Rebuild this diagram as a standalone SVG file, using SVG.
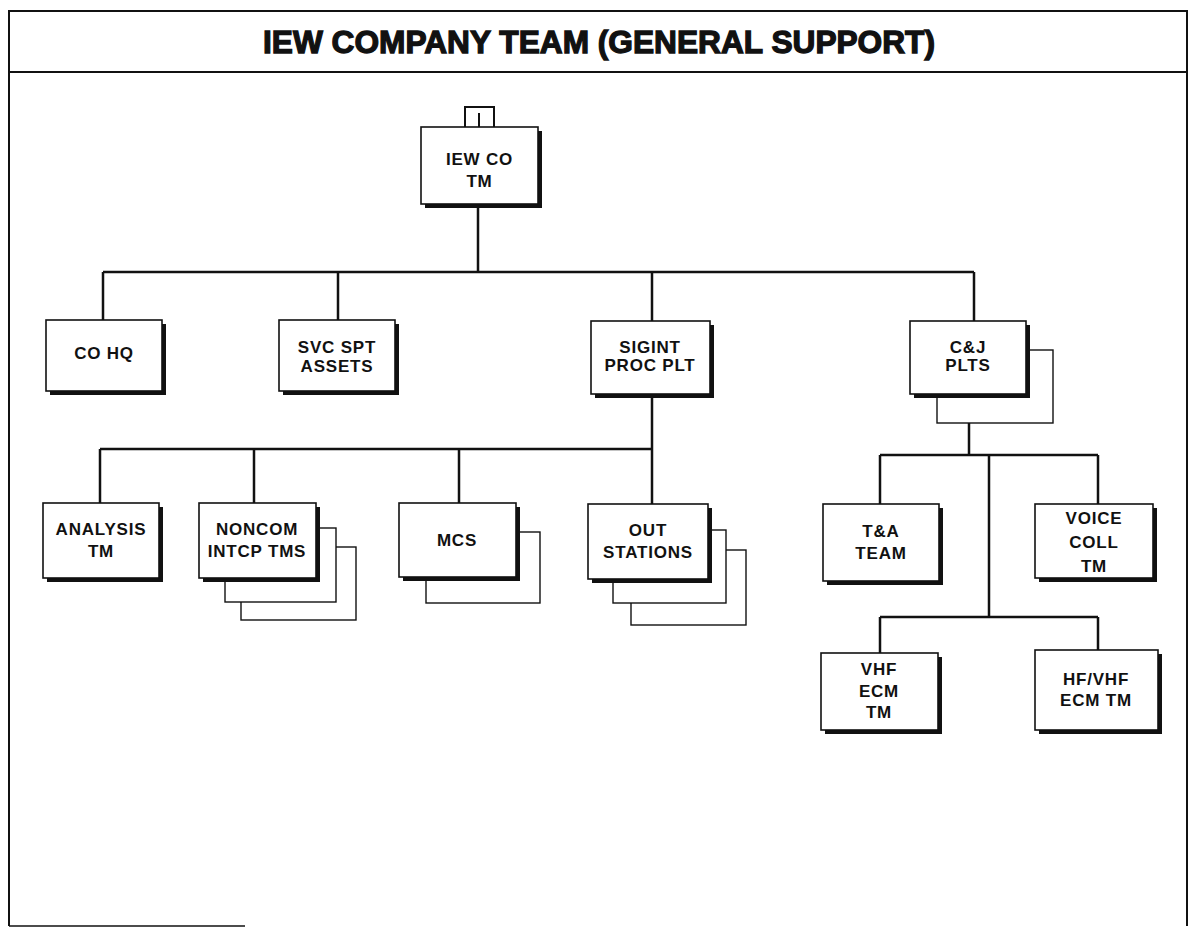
<svg xmlns="http://www.w3.org/2000/svg" width="1196" height="929" viewBox="0 0 1196 929">
<style>
.frame{fill:none;stroke:#111;stroke-width:2}
.box{fill:#fff;stroke:#111;stroke-width:1.6}
.shadow{fill:#111}
.back{fill:#fff;stroke:#111;stroke-width:1.4}
.conn{fill:none;stroke:#111;stroke-width:2.5}
.lbl{font-family:"Liberation Sans",Arial,sans-serif;font-weight:bold;font-size:17px;text-anchor:middle;fill:#111;letter-spacing:0.8px}
.title{font-family:"Liberation Sans",Arial,sans-serif;font-weight:bold;font-size:32px;text-anchor:middle;fill:#111;stroke:#111;stroke-width:1.3}
</style>
<rect width="1196" height="929" fill="#fff"/>
<g id="frame">
<path class="frame" d="M9 926 V11 H1187 V926"/>
<path class="frame" d="M9 72 H1187" stroke-width="2.5"/>
<path fill="none" stroke="#111" stroke-width="1.5" d="M9 926 H245"/>
<text class="title" x="599" y="53" textLength="672" lengthAdjust="spacingAndGlyphs">IEW COMPANY TEAM (GENERAL SUPPORT)</text>
</g>
<g id="connectors">
<path class="conn" d="M478 207 V272 M103 272 H974 M103 272 V320 M338 272 V320 M652 272 V321 M974 272 V321"/>
<path class="conn" d="M652 395 V504 M100 449 H652 M100 449 V503 M254 449 V503 M459 449 V503"/>
<path class="conn" d="M969 423 V455 M880 455 H1098 M880 455 V504 M1098 455 V504 M989 455 V617 M880 617 H1098 M880 617 V653 M1098 617 V650"/>
</g>
<g id="iew-co-tm">
<path fill="none" stroke="#111" stroke-width="2" d="M465 127 V107 H494 V127 M479 113 V127"/>
<rect class="shadow" x="425" y="131" width="117" height="77"/>
<rect class="box" x="421" y="127" width="117" height="77"/>
<text class="lbl" x="479.5" y="165">IEW CO</text>
<text class="lbl" x="479.5" y="187">TM</text>
</g>
<g id="co-hq">
<rect class="shadow" x="50" y="324" width="116" height="71"/>
<rect class="box" x="46" y="320" width="116" height="71"/>
<text class="lbl" x="104" y="359">CO HQ</text>
</g>
<g id="svc-spt-assets">
<rect class="shadow" x="283" y="324" width="116" height="71"/>
<rect class="box" x="279" y="320" width="116" height="71"/>
<text class="lbl" x="337" y="353">SVC SPT</text>
<text class="lbl" x="337" y="372">ASSETS</text>
</g>
<g id="sigint-proc-plt">
<rect class="shadow" x="595" y="325" width="119" height="73"/>
<rect class="box" x="591" y="321" width="119" height="73"/>
<text class="lbl" x="650" y="353">SIGINT</text>
<text class="lbl" x="650" y="371">PROC PLT</text>
</g>
<g id="cj-plts">
<rect class="back" x="937" y="350" width="116" height="73"/>
<rect class="shadow" x="914" y="325" width="116" height="73"/>
<rect class="box" x="910" y="321" width="116" height="73"/>
<text class="lbl" x="968" y="353">C&amp;J</text>
<text class="lbl" x="968" y="371">PLTS</text>
</g>
<g id="analysis-tm">
<rect class="shadow" x="47" y="507" width="116" height="75"/>
<rect class="box" x="43" y="503" width="116" height="75"/>
<text class="lbl" x="101" y="535">ANALYSIS</text>
<text class="lbl" x="101" y="557">TM</text>
</g>
<g id="noncom-intcp-tms">
<rect class="back" x="241" y="547" width="115" height="73"/>
<rect class="back" x="225" y="528" width="111" height="74"/>
<rect class="shadow" x="203" y="507" width="117" height="75"/>
<rect class="box" x="199" y="503" width="117" height="75"/>
<text class="lbl" x="257" y="535">NONCOM</text>
<text class="lbl" x="257" y="557">INTCP TMS</text>
</g>
<g id="mcs">
<rect class="back" x="426" y="532" width="114" height="71"/>
<rect class="shadow" x="403" y="507" width="117" height="74"/>
<rect class="box" x="399" y="503" width="117" height="74"/>
<text class="lbl" x="457" y="546">MCS</text>
</g>
<g id="out-stations">
<rect class="back" x="631" y="550" width="115" height="75"/>
<rect class="back" x="613" y="530" width="113" height="73"/>
<rect class="shadow" x="592" y="508" width="120" height="75"/>
<rect class="box" x="588" y="504" width="120" height="75"/>
<text class="lbl" x="648" y="536">OUT</text>
<text class="lbl" x="648" y="558">STATIONS</text>
</g>
<g id="ta-team">
<rect class="shadow" x="827" y="508" width="116" height="77"/>
<rect class="box" x="823" y="504" width="116" height="77"/>
<text class="lbl" x="881" y="537">T&amp;A</text>
<text class="lbl" x="881" y="559">TEAM</text>
</g>
<g id="voice-coll-tm">
<rect class="shadow" x="1039" y="508" width="118" height="74"/>
<rect class="box" x="1035" y="504" width="118" height="74"/>
<text class="lbl" x="1094" y="524">VOICE</text>
<text class="lbl" x="1094" y="548">COLL</text>
<text class="lbl" x="1094" y="572">TM</text>
</g>
<g id="vhf-ecm-tm">
<rect class="shadow" x="825" y="657" width="117" height="77"/>
<rect class="box" x="821" y="653" width="117" height="77"/>
<text class="lbl" x="879" y="675">VHF</text>
<text class="lbl" x="879" y="697">ECM</text>
<text class="lbl" x="879" y="718">TM</text>
</g>
<g id="hf-vhf-ecm-tm">
<rect class="shadow" x="1039" y="654" width="123" height="80"/>
<rect class="box" x="1035" y="650" width="123" height="80"/>
<text class="lbl" x="1096" y="685">HF/VHF</text>
<text class="lbl" x="1096" y="706">ECM TM</text>
</g>
</svg>
